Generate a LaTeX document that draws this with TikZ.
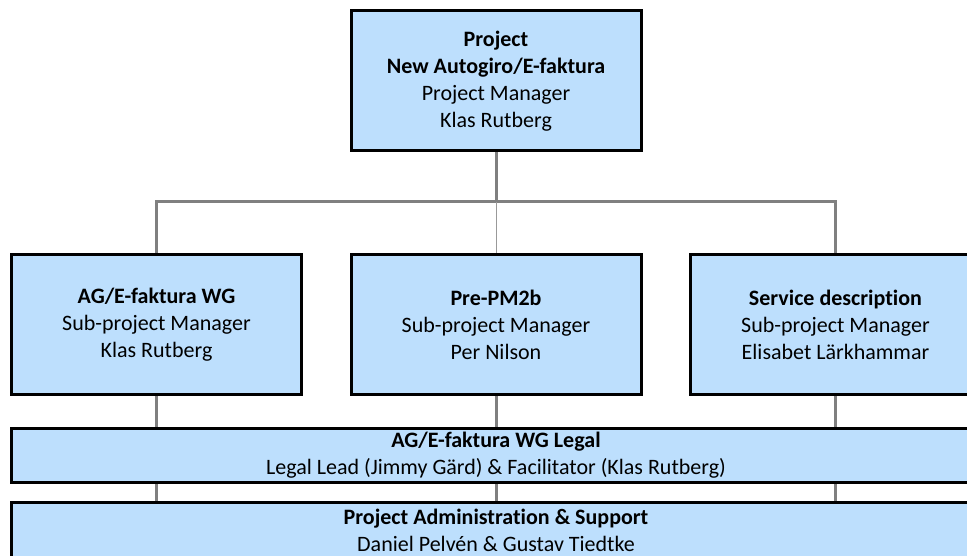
\documentclass[tikz,border=0pt]{standalone}
\usepackage{fontspec}
\setmainfont{Carlito}[Ligatures=NoCommon]
\usetikzlibrary{backgrounds}
\definecolor{boxblue}{RGB}{189,223,253}
\definecolor{linegray}{RGB}{128,128,128}
\begin{document}
\begin{tikzpicture}[x=1pt,y=-1pt,
  box/.style={draw=black, line width=3pt, fill=boxblue, align=center, inner sep=0pt,
    minimum width=290pt, minimum height=140pt, font=\fontsize{22}{27}\selectfont},
  link/.style={draw=linegray, line width=3pt},
  thinlink/.style={draw=linegray!80, line width=1pt}]
\useasboundingbox (0,0) rectangle (967,556);
\clip (0,0) rectangle (967,556);
\node[box] (top) at (496,81) {\textbf{Project}\\\textbf{New Autogiro/E-faktura}\\Project Manager\\Klas Rutberg};
\node[box] (wg) at (156.5,324.5) {\textbf{AG/E-faktura WG}\\Sub-project Manager\\Klas Rutberg};
\node[box] (pm) at (496,324.5) {\textbf{Pre-PM2b}\\Sub-project Manager\\Per Nilson};
\node[box] (sd) at (835.5,324.5) {\textbf{Service description}\\Sub-project Manager\\Elisabet Lärkhammar};
\node[box, minimum width=969pt, minimum height=54pt] (legal) at (496,455.5) {\textbf{AG/E-faktura WG Legal}\\Legal Lead (Jimmy Gärd) \& Facilitator (Klas Rutberg)};
\node[box, minimum width=969pt, minimum height=56pt] (admin) at (496,530.5) {\textbf{Project Administration \& Support}\\Daniel Pelvén \& Gustav Tiedtke};
\coordinate (bar) at (496,202);
\begin{pgfonlayer}{background}
\draw[link] (top.south) -- (bar);
\draw[link] (wg.north) |- (bar) -| (sd.north);
\draw[thinlink] (bar) -- (pm.north);
\foreach \n in {wg,pm,sd}{
  \draw[link] (\n.south) -- (\n.south |- legal.north);
  \draw[link] (\n.south |- legal.south) -- (\n.south |- admin.north);
}
\end{pgfonlayer}
\end{tikzpicture}
\end{document}
